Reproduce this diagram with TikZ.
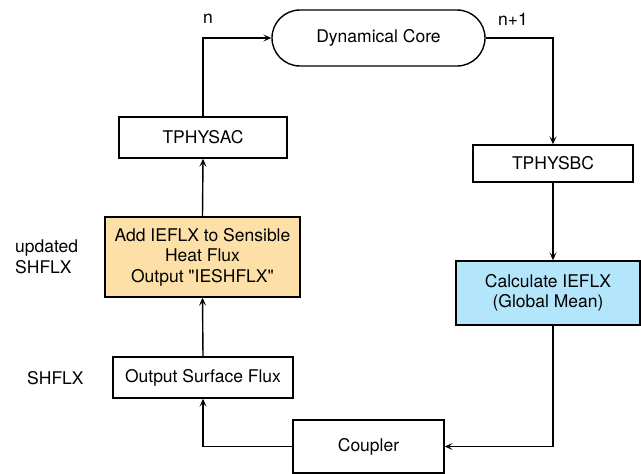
\documentclass[tikz,border=0pt]{standalone}
\usepackage{fontspec}
\setmainfont{TeX Gyre Heros}[Ligatures=TeXOff]
\usetikzlibrary{arrows.meta}
\definecolor{orangefill}{HTML}{FDE0A8}
\definecolor{bluefill}{HTML}{B3E5FB}
\begin{document}
\begin{tikzpicture}[x=1pt,y=-1pt,
  every node/.style={font=\fontsize{17.5}{20.5}\selectfont},
  box/.style={draw, line width=1.4pt, align=center, inner sep=0pt},
  arr/.style={line width=1.4pt, -{Stealth[length=8pt,width=7pt,inset=3.5pt]}},
  lbl/.style={inner sep=0pt}]
\useasboundingbox (0,0) rectangle (641,474);
\node[box, rounded corners=28pt, minimum width=213pt, minimum height=56pt] (dyn) at (378.5,38) {Dynamical Core};
\node[box, minimum width=168pt, minimum height=41pt] (tac) at (203,137.5) {TPHYSAC};
\node[box, fill=orangefill, minimum width=195pt, minimum height=80pt] (add) at (202.5,257) {Add IEFLX to Sensible\\Heat Flux\\Output "IESHFLX"};
\node[box, minimum width=180pt, minimum height=41pt] (osf) at (203,377.5) {Output Surface Flux};
\node[box, minimum width=151pt, minimum height=53pt] (cpl) at (368.5,446.5) {Coupler};
\node[box, minimum width=160pt, minimum height=37pt] (tbc) at (553,163.5) {TPHYSBC};
\node[box, fill=bluefill, minimum width=184pt, minimum height=64pt] (calc) at (548,293) {Calculate IEFLX\\(Global Mean)};
\node[lbl, anchor=west, align=left] (upd) at (15,257) {updated\\SHFLX};
\node[lbl, anchor=west] (sh) at (27,378) {SHFLX};
\node[lbl] (n) at (208,19) {n};
\node[lbl] (n1) at (513,19) {n+1};
\draw[arr] (tac.north) |- (dyn.west);
\draw[arr] (dyn.east) -| (tbc.north);
\draw[arr] (tbc.south) -- (tbc.south |- calc.north);
\draw[arr] (calc.south -| tbc.south) |- (cpl.east);
\draw[arr] (cpl.west) -| (osf.south);
\draw[arr] (osf.north) -- (add.south);
\draw[arr] (add.north) -- (tac.south);
\end{tikzpicture}
\end{document}
